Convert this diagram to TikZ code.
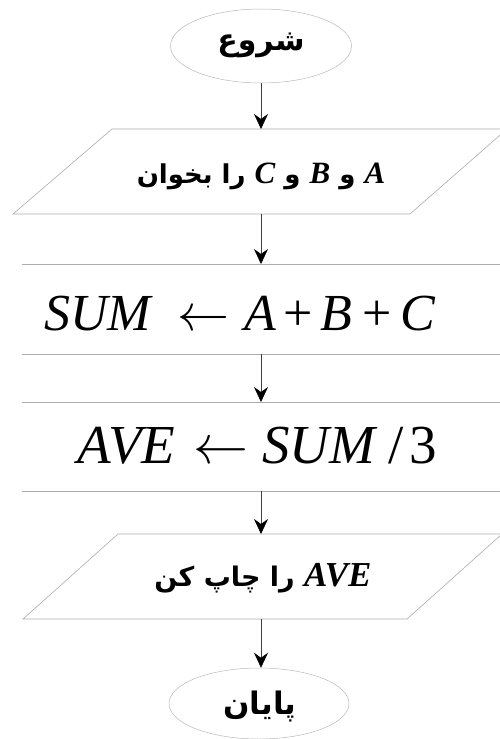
\documentclass[tikz,border=0pt]{standalone}
\usepackage{fontspec}
\usetikzlibrary{arrows.meta,shapes.geometric}
\TeXXeTstate=1
\DeclareFontShape{OMS}{cmsy}{m}{n}{<-6>cmsy5<6-8>cmsy7<8->cmsy10}{}
\newfontfamily\arabicfont[Script=Arabic]{DejaVu Sans}
\newfontfamily\tnr{Liberation Serif}
\tikzset{
  shapeline/.style={draw=gray!65, line width=0.6pt},
  ellipseline/.style={draw=gray!55, line width=0.5pt},
  flowarrow/.style={draw=gray!50!black, line width=0.6pt,
    -{Stealth[length=15pt,width=14pt,inset=5pt,color=black]}},
  container/.style={inner sep=0pt, outer sep=0pt, minimum width=300pt},
  fatext/.style={inner sep=0pt, font=\arabicfont\bfseries},
  mathtext/.style={inner sep=0pt, font=\tnr\itshape\fontsize{52}{60}\selectfont},
}
\newcommand{\larr}{$\leftarrow$}
\newcommand{\plus}{{\upshape +}}
\begin{document}
\begin{tikzpicture}
\useasboundingbox (0pt,0pt) rectangle (499pt,-739pt);
% start
\node[ellipse, ellipseline, minimum width=181pt, minimum height=74pt, inner sep=0pt] (start) at (261pt,-46pt) {};
\node[fatext, font=\arabicfont\bfseries\fontsize{30}{34}\selectfont] (tstart) at (261pt,-45pt) {\beginR شروع\endR};
% input
\node[container, minimum height=85pt] (p1) at (261pt,-171.5pt) {};
\draw[shapeline] (112pt,-129pt) -- (507pt,-129pt) -- (410pt,-214pt) -- (13pt,-214pt) -- cycle;
\node[fatext, font=\arabicfont\bfseries\fontsize{26}{30}\selectfont, anchor=base] (tp1) at (261pt,-183pt)
  {\beginR{\tnr\bfseries\itshape\fontsize{31}{34}\selectfont A} و {\tnr\bfseries\itshape\fontsize{31}{34}\selectfont B} و {\tnr\bfseries\itshape\fontsize{31}{34}\selectfont C} را بخوان\endR};
% sum
\node[container, minimum height=90pt] (r1) at (261pt,-309pt) {};
\draw[shapeline] (22pt,-264pt) -- (520pt,-264pt) (22pt,-354pt) -- (520pt,-354pt);
\node[mathtext, anchor=base west] (tr1) at (44pt,-330pt)
  {SUM\hspace{0.5em}\larr\hspace{0.3em}A\hspace{0.13em}\plus\hspace{0.15em}B\hspace{0.2em}\plus\hspace{0.16em}C};
% ave
\node[container, minimum height=89pt] (r2) at (261pt,-446.5pt) {};
\draw[shapeline] (22pt,-402pt) -- (520pt,-402pt) (22pt,-491pt) -- (520pt,-491pt);
\node[mathtext, font=\tnr\itshape\fontsize{55}{62}\selectfont, anchor=base west] (tr2) at (77pt,-463pt)
  {AVE\hspace{0.33em}\larr\hspace{0.25em}SUM\hspace{0.25em}{\upshape /}\hspace{0.1em}{\upshape 3}};
% output
\node[container, minimum height=85pt] (p2) at (261pt,-576.5pt) {};
\draw[shapeline] (118pt,-534pt) -- (502pt,-534pt) -- (407pt,-619pt) -- (23pt,-619pt) -- cycle;
\node[fatext, font=\arabicfont\bfseries\fontsize{27}{30}\selectfont, anchor=base] (tp2) at (263pt,-586pt)
  {\beginR{\tnr\itshape\fontsize{35}{38}\selectfont AVE} را چاپ کن\endR};
% end
\node[ellipse, ellipseline, minimum width=180pt, minimum height=71pt, inner sep=0pt] (stop) at (259pt,-703.5pt) {};
\node[fatext, font=\arabicfont\bfseries\fontsize{31}{34}\selectfont] (tstop) at (260pt,-706pt) {\beginR پایان\endR};
% arrows
\draw[flowarrow] (start.south -| 261pt,0) -- (p1.north);
\draw[flowarrow] (p1.south) -- (r1.north);
\draw[flowarrow] (r1.south) -- (r2.north);
\draw[flowarrow] (r2.south) -- (p2.north);
\draw[flowarrow] (p2.south) -- (p2.south |- stop.north);
\end{tikzpicture}
\end{document}
